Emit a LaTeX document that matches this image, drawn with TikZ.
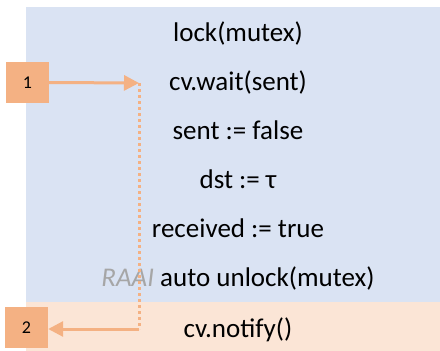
\documentclass[tikz,border=0pt]{standalone}
\usepackage{fontspec}
\setmainfont{Carlito}
\usetikzlibrary{arrows.meta}
\definecolor{bluebg}{HTML}{DAE3F3}
\definecolor{peachbg}{HTML}{FBE5D6}
\definecolor{orangebox}{HTML}{F4B183}
\definecolor{raaigray}{HTML}{A6A6A6}
\tikzset{
  codeline/.style={font=\fontsize{27}{32}\selectfont, text=black, inner sep=0pt, anchor=base},
  numbox/.style={fill=orangebox, draw=none, minimum width=43pt, minimum height=41pt, inner sep=0pt, font=\fontsize{18}{20}\selectfont},
  flow/.style={draw=orangebox, line width=3pt, -{Triangle[length=15pt,width=15pt]}},
  dotflow/.style={draw=orangebox, line width=3pt, dash pattern=on 3pt off 3pt},
}
\begin{document}
\begin{tikzpicture}[x=1pt,y=-1pt]
\useasboundingbox (0,0) rectangle (440,351);
\fill[bluebg] (26,7) rectangle (440,302);
\fill[peachbg] (26,302) rectangle (440,351);
\node[codeline] (l1) at (238,41) {lock(mutex)};
\node[codeline] (l2) at (238,90) {cv.wait(sent)};
\node[codeline] (l3) at (238,139) {sent := false};
\node[codeline] (l4) at (238,188) {dst := τ};
\node[codeline] (l5) at (238,237) {received := true};
\node[codeline] (l6) at (238,286) {\textcolor{raaigray}{\itshape RAAI} auto unlock(mutex)};
\node[codeline] (l7) at (238,337) {cv.notify()};
\node[numbox] (n1) at (27.5,82.5) {1};
\node[numbox] (n2) at (26.5,327.5) {2};
\coordinate (c1) at (139,83);
\coordinate (c2) at (139,329);
\draw[flow] (n1.east) -- (c1);
\draw[dotflow] (c1) -- (c2);
\draw[flow] (c2) -- (n2.east |- c2);
\end{tikzpicture}
\end{document}
